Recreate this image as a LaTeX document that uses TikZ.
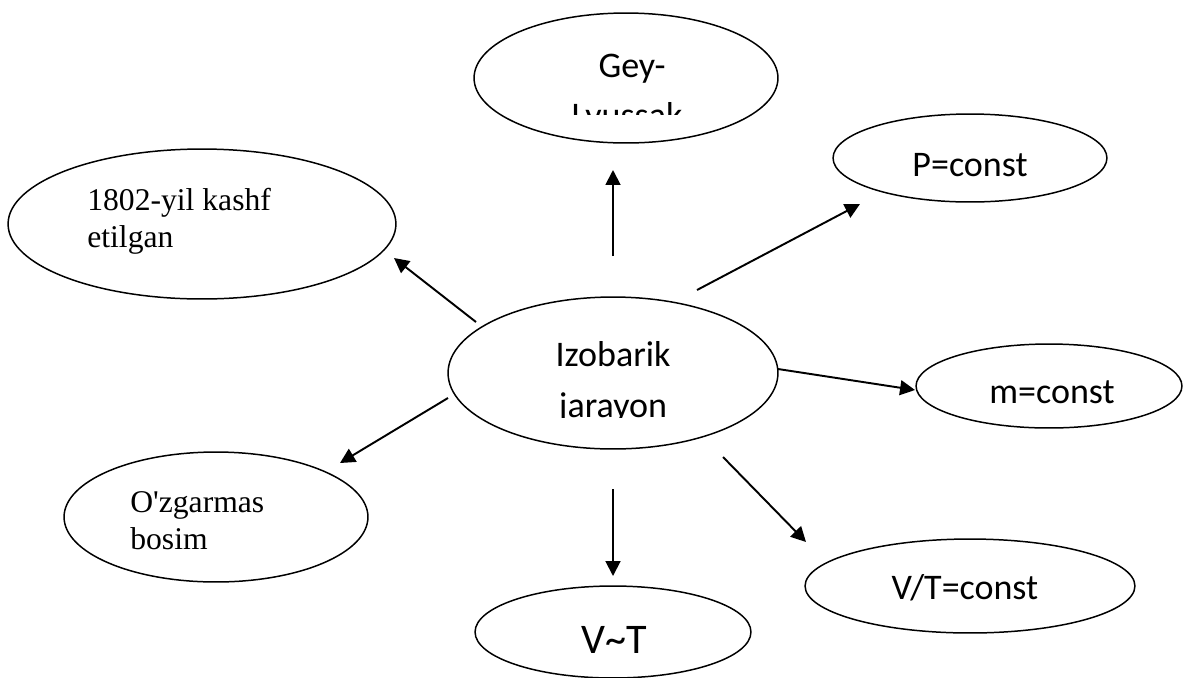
\documentclass[tikz,border=0pt]{standalone}
\usepackage{fontspec}
\setmainfont{Liberation Serif}
\newfontfamily\carlito{Carlito}
\usetikzlibrary{shapes.geometric, arrows.meta}

\tikzset{
    oval/.style 2 args={draw, ellipse, line width=0.85pt, inner sep=0pt,
        minimum width=#1*0.04cm, minimum height=#2*0.04cm},
    arr/.style={-{Triangle[length=8.5pt, width=8.5pt]}, line width=1.1pt},
    sans/.style={anchor=base, inner sep=0pt, font=\carlito\fontsize{20.5}{24}\selectfont},
    serif/.style={anchor=base west, inner sep=0pt, font=\fontsize{18}{21}\selectfont}
}

\begin{document}
\begin{tikzpicture}[x=0.02cm, y=-0.02cm]
    \useasboundingbox (0,0) rectangle (1183,677);

    \node[oval={152}{65}] (gey) at (626,78) {};
    \node[oval={194}{75}] (kashf) at (202,224) {};
    \node[oval={137}{44}] (pc) at (970,158) {};
    \node[oval={165}{76}] (izo) at (613,373) {};
    \node[oval={133}{42}] (mc) at (1049,386) {};
    \node[oval={165}{47}] (vtc) at (970,586) {};
    \node[oval={152}{65}] (bosim) at (216,517) {};
    \node[oval={138}{46}] (vt) at (613,632) {};

    \begin{scope}
        \clip (470,0) rectangle (790,114);
        \node[sans] (gey1) at (632,77) {Gey-};
        \node[sans] (gey2) at (627,127) {Lyussak};
    \end{scope}
    \begin{scope}
        \clip (440,300) rectangle (790,417.5);
        \node[sans] (izo1) at (613,366) {Izobarik};
        \node[sans] (izo2) at (613,417) {jarayon};
    \end{scope}
    \node[sans] (pc1) at (970,176) {P=const};
    \node[sans] (mc1) at (1052,403) {m=const};
    \node[sans] (vtc1) at (965,599) {V/T=const};
    \node[sans, font=\carlito\fontsize{24}{28}\selectfont] (vt1) at (614,653) {V\char`~T};
    \node[serif] (kashf1) at (87,210) {1802-yil kashf};
    \node[serif] (kashf2) at (87,247) {etilgan};
    \node[serif] (bosim1) at (130,512) {O\textquotesingle zgarmas};
    \node[serif] (bosim2) at (130,549) {bosim};

    \coordinate (s1) at (613,256);  \coordinate (e1) at (613,170);
    \coordinate (s2) at (697,290);  \coordinate (e2) at (860,204);
    \coordinate (s3) at (476,322);  \coordinate (e3) at (394,258);
    \coordinate (s4) at (778,369);  \coordinate (e4) at (915,390);
    \coordinate (s5) at (723,457);  \coordinate (e5) at (806,542);
    \coordinate (s6) at (613,489);  \coordinate (e6) at (613,576);
    \coordinate (s7) at (448,398);  \coordinate (e7) at (340,463);
    \draw[arr] (s1) -- (e1);
    \draw[arr] (s2) -- (e2);
    \draw[arr] (s3) -- (e3);
    \draw[arr] (s4) -- (e4);
    \draw[arr] (s5) -- (e5);
    \draw[arr] (s6) -- (e6);
    \draw[arr] (s7) -- (e7);
\end{tikzpicture}
\end{document}
